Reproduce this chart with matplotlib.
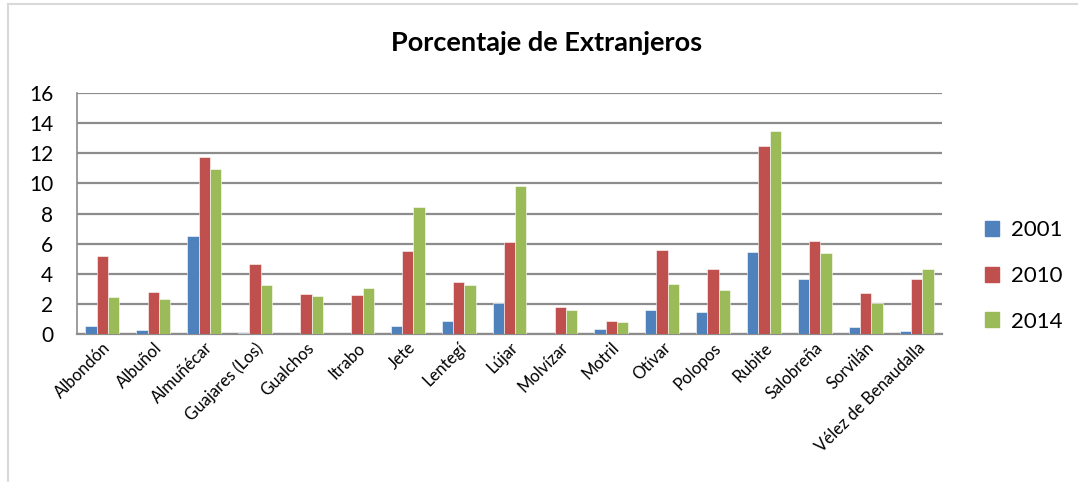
import matplotlib
matplotlib.use("Agg")
import matplotlib.pyplot as plt
from matplotlib.lines import Line2D
import numpy as np

plt.rcParams['font.family'] = ['Lato', 'DejaVu Sans']

municipios = ["Albondón", "Albuñol", "Almuñécar", "Guajares (Los)", "Gualchos",
              "Itrabo", "Jete", "Lentegí", "Lújar", "Molvízar", "Motril", "Otívar",
              "Polopos", "Rubite", "Salobreña", "Sorvilán", "Vélez de Benaudalla"]
pct_2001 = [0.51, 0.27, 6.49, 0.07, 0.0, 0.0, 0.53, 0.89, 2.09, 0.0, 0.33, 1.62,
            1.44, 5.44, 3.67, 0.47, 0.22]
pct_2010 = [5.16, 2.80, 11.76, 4.67, 2.64, 2.62, 5.53, 3.42, 6.11, 1.76, 0.89, 5.56,
            4.29, 12.47, 6.20, 2.69, 3.62]
pct_2014 = [2.44, 2.33, 10.96, 3.27, 2.51, 3.07, 8.40, 3.24, 9.82, 1.60, 0.80, 3.33,
            2.91, 13.51, 5.40, 2.09, 4.29]
years = ["2001", "2010", "2014"]
colors = ["#4F81BD", "#C0504D", "#9BBB59"]
y_ticks = [0, 2, 4, 6, 8, 10, 12, 14, 16]

W, H = 1078, 482
fig = plt.figure(figsize=(W / 100, H / 100), dpi=100)
ax = fig.add_axes([77 / W, 1 - 334 / H, (942 - 77) / W, (334 - 93) / H])

x = np.arange(len(municipios))
w = 1 / 4.5
for i, (vals, c, lab) in enumerate(zip([pct_2001, pct_2010, pct_2014], colors, years)):
    ax.bar(x + (i - 1) * w, vals, width=w, color=c, label=lab, zorder=3,
           edgecolor="white", linewidth=0.4)

ax.set_xlim(-0.5, len(municipios) - 0.5)
ax.set_ylim(0, 16)
ax.set_yticks(y_ticks)
ax.set_yticklabels([str(t) for t in y_ticks], fontsize=15)
ax.yaxis.grid(True, color="#8C8C8C", linewidth=1.6, zorder=0)
ax.tick_params(axis='y', length=0, pad=17)
ax.tick_params(axis='x', length=0, pad=4)
ax.set_xticks(x)
ax.set_xticklabels(municipios, rotation=45, ha="right", rotation_mode="anchor",
                   fontsize=12)
for s in ["top", "right"]:
    ax.spines[s].set_visible(False)
ax.spines["left"].set_color("#8C8C8C")
ax.spines["bottom"].set_color("#8C8C8C")
ax.spines["left"].set_linewidth(1.2)
ax.spines["bottom"].set_linewidth(1.6)

fig.text(547 / W, 1 - 43 / H, "Porcentaje de Extranjeros", ha="center", va="center",
         fontsize=19.5, fontweight="bold")

handles = [plt.Rectangle((0, 0), 1, 1, color=c) for c in colors]
leg = fig.legend(handles, years, loc="center left",
                 bbox_to_anchor=(965 / W, 1 - 276 / H), frameon=False,
                 fontsize=16, handlelength=0.65, handleheight=0.65,
                 labelspacing=1.15, handletextpad=0.5)

# chart frame edges
fig.add_artist(Line2D([8 / W, 8 / W], [0, 1 - 4 / H], color="#D9D9D9", linewidth=1.5))
fig.add_artist(Line2D([8 / W, 1], [1 - 4 / H, 1 - 4 / H], color="#D9D9D9", linewidth=1.5))

fig.savefig("out.png", dpi=100)
